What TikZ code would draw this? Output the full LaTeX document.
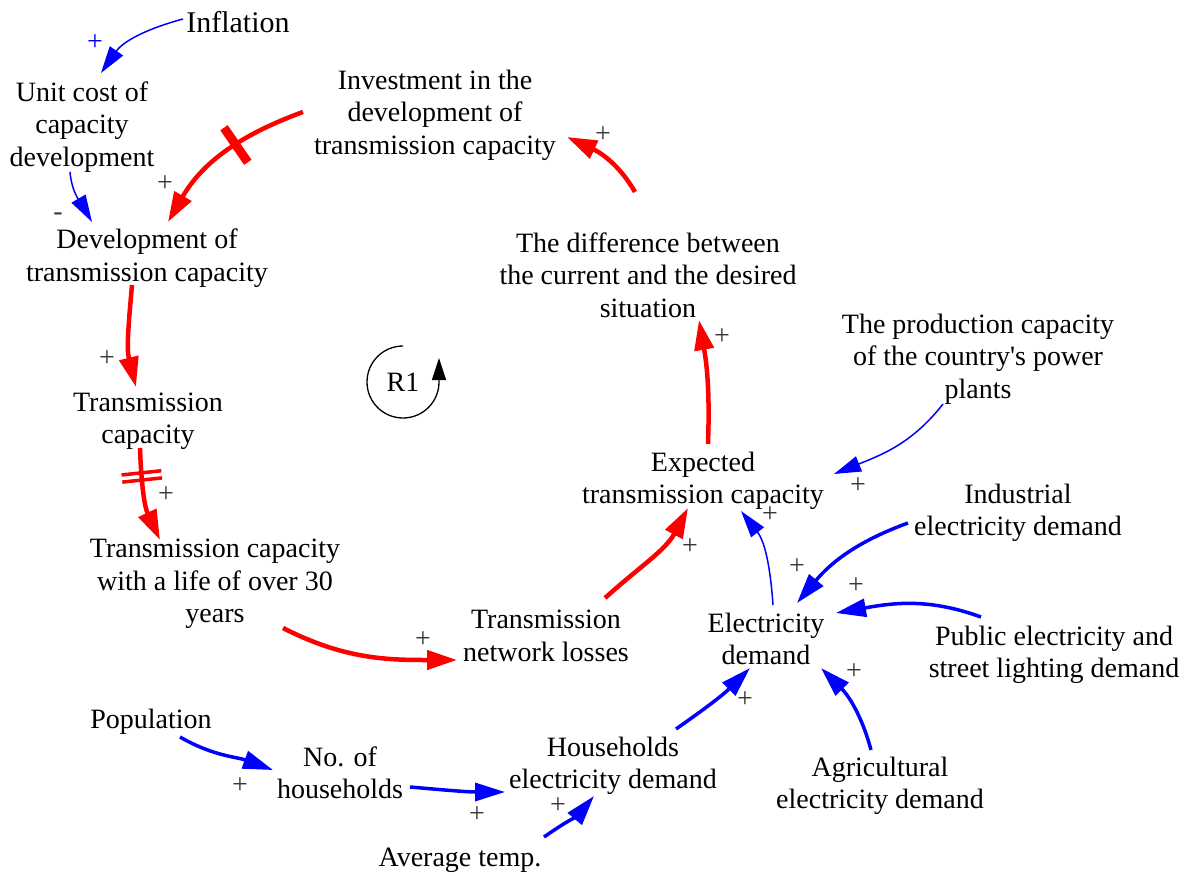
\documentclass[tikz,border=0pt]{standalone}
\usepackage{fontspec}
\setmainfont{Liberation Serif}
\usetikzlibrary{arrows.meta,decorations.markings}
\begin{document}
\begin{tikzpicture}[x=1pt,y=1pt,
  var/.style={align=center,inner sep=0pt,yshift=-3pt,font=\fontsize{28}{32.5}\selectfont},
  pol/.style={inner sep=0pt,font=\fontsize{28}{30}\selectfont,text=black!78},
  redlink/.style={draw=red,line width=4.5pt,-{Triangle[length=30pt,width=19pt]}},
  bluelink/.style={draw=blue,line width=3.5pt,-{Triangle[length=30pt,width=18pt]}},
  thinlink/.style={draw=blue,line width=1.5pt,-{Triangle[length=27pt,width=16pt]}},
  onehash/.style={postaction={decorate},decoration={markings,
    mark=at position #1 with {\draw[red,line width=9pt,-] (0,-21) -- (0,21);}}},
  twohash/.style={postaction={decorate},decoration={markings,
    mark=at position #1 with {\draw[red,line width=3.5pt,-] (-3.6,-20) -- (-3.6,20) (3.6,-20) -- (3.6,20);}}},
]
\useasboundingbox (0,0) rectangle (1190,-875);

% variables
\node[var,font=\fontsize{30}{34}\selectfont] (inf) at (238,-19) {Inflation};
\node[var] (unit) at (82,-124) {Unit cost of\\capacity\\development};
\node[var] (inv)  at (435,-112) {Investment in the\\development of\\transmission capacity};
\node[var] (dev)  at (147,-255) {Development of\\transmission capacity};
\node[var] (diff) at (648,-272) {The difference between\\the current and the desired\\situation};
\node[var] (tcap) at (148,-418) {Transmission\\capacity};
\node[var] (prod) at (978,-356) {The production capacity\\of the country\textquotesingle s power\\plants};
\node[var] (exp)  at (703,-478) {Expected\\transmission capacity};
\node[var] (ind)  at (1018,-510) {Industrial\\electricity demand};
\node[var] (life) at (215,-581) {Transmission capacity\\with a life of over 30\\years};
\node[var] (loss) at (546,-633) {Transmission\\network losses};
\node[var] (ed)   at (766,-636) {Electricity\\demand};
\node[var] (pub)  at (1054,-652) {Public electricity and\\street lighting demand};
\node[var] (pop)  at (151,-719) {Population};
\node[var] (noh)  at (340,-770) {No. of\\households};
\node[var] (hed)  at (613,-763) {Households\\electricity demand};
\node[var] (agr)  at (880,-783) {Agricultural\\electricity demand};
\node[var] (avg)  at (460,-857) {Average temp.};

% loop marker
\node[var] (r1) at (403,-379) {R1};
\draw[line width=1.3pt,-{Triangle[length=22pt,width=14pt]}]
  ([shift={(0,36)}]r1.center) arc[start angle=90,end angle=360,radius=36] -- ++(0,24);

% reinforcing loop links
\draw[redlink,onehash=0.42] ([shift={(-132,3)}]inv.center) to[out=200,in=60] ([shift={(21,36)}]dev.center);
\draw[redlink] ([shift={(-15,-27)}]dev.center) to[out=-95,in=104] ([shift={(-12,34)}]tcap.center);
\draw[redlink,twohash=0.3] ([shift={(-8,-27)}]tcap.center) to[out=-88,in=115] ([shift={(-55,44)}]life.center);
\draw[redlink] ([shift={(68,-44)}]life.center) to[out=-27,in=180] ([shift={(-89,-24)}]loss.center);
\draw[redlink] ([shift={(59,38)}]loss.center) to[out=42,in=-118] ([shift={(-15,-27)}]exp.center);
\draw[redlink] ([shift={(5,37)}]exp.center) to[out=88,in=-80] ([shift={(51,-45)}]diff.center);
\draw[redlink] ([shift={(-13,83)}]diff.center) to[out=120,in=-25] ([shift={(132,-22)}]inv.center);

% other links
\draw[thinlink] ([shift={(-55,3)}]inf.center) to[out=195,in=55] ([shift={(19,54)}]unit.center);
\draw[thinlink] ([shift={(-12,-45)}]unit.center) to[out=-85,in=120] ([shift={(-55,36)}]dev.center);
\draw[thinlink] ([shift={(-35,-45)}]prod.center) to[out=-128,in=22] ([shift={(131,7)}]exp.center);
\draw[thinlink] ([shift={(7,34)}]ed.center) to[out=94,in=-52] ([shift={(38,-30)}]exp.center);
\draw[bluelink] ([shift={(-110,-10)}]ind.center) to[out=200,in=50] ([shift={(31,36)}]ed.center);
\draw[bluelink] ([shift={(-73,38)}]pub.center) to[out=160,in=10] ([shift={(70,26)}]ed.center);
\draw[bluelink] ([shift={(-9,36)}]agr.center) to[out=105,in=-45] ([shift={(55,-29)}]ed.center);
\draw[bluelink] ([shift={(63,37)}]hed.center) to[out=35,in=-135] ([shift={(-16,-29)}]ed.center);
\draw[bluelink] ([shift={(29,-15)}]pop.center) to[out=-30,in=160] ([shift={(-67,3)}]noh.center);
\draw[bluelink] ([shift={(70,-14)}]noh.center) to[out=-5,in=180] ([shift={(-108,-26)}]hed.center);
\draw[bluelink] ([shift={(84,23)}]avg.center) to[out=35,in=-130] ([shift={(-19,-30)}]hed.center);

% polarities
\node[pol,text=blue] (s1) at (95,-43) {+};
\node[pol] (s2)  at (58,-217) {-};
\node[pol] (s3)  at (165,-184) {+};
\node[pol] (s4)  at (603,-135) {+};
\node[pol] (s5)  at (107,-359) {+};
\node[pol] (s6)  at (166,-495) {+};
\node[pol] (s7)  at (423,-640) {+};
\node[pol] (s8)  at (690,-547) {+};
\node[pol] (s9)  at (722,-337) {+};
\node[pol] (s10) at (858,-486) {+};
\node[pol] (s11) at (770,-515) {+};
\node[pol] (s12) at (797,-567) {+};
\node[pol] (s13) at (856,-586) {+};
\node[pol] (s14) at (854,-672) {+};
\node[pol] (s15) at (745,-700) {+};
\node[pol] (s16) at (240,-786) {+};
\node[pol] (s17) at (477,-815) {+};
\node[pol] (s18) at (558,-806) {+};
\end{tikzpicture}
\end{document}
